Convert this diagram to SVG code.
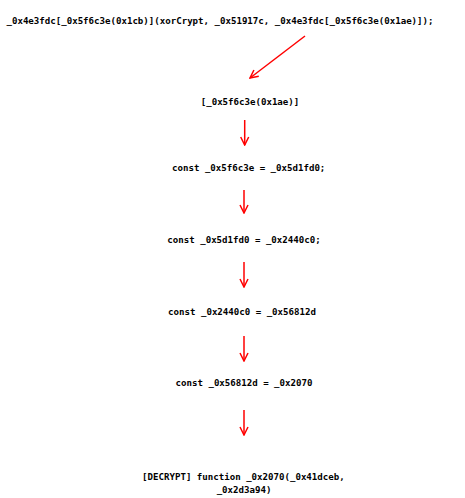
<svg xmlns="http://www.w3.org/2000/svg" width="465" height="498" viewBox="0 0 465 498">
<defs>
<marker id="ah" viewBox="0 0 10 10" refX="9" refY="5" markerWidth="10" markerHeight="10" markerUnits="userSpaceOnUse" orient="auto">
<path d="M1,1 L9,5 L1,9" fill="none" stroke="#ff0000" stroke-width="1.5"/>
</marker>
</defs>
<style>
text{font-family:"DejaVu Sans Mono","Liberation Mono",monospace;font-weight:bold;font-size:9.1px;fill:#000;text-anchor:middle}
.c{stroke:#ff0000;stroke-width:1.5;fill:none;marker-end:url(#ah)}
</style>
<rect width="465" height="498" fill="#fff"/>
<g id="n0"><text x="220" y="24">_0x4e3fdc[_0x5f6c3e(0x1cb)](xorCrypt, _0x51917c, _0x4e3fdc[_0x5f6c3e(0x1ae)]);</text></g>
<g id="n1"><text x="250" y="105">[_0x5f6c3e(0x1ae)]</text></g>
<g id="n2"><text x="248.7" y="171">const _0x5f6c3e = _0x5d1fd0;</text></g>
<g id="n3"><text x="244" y="243">const _0x5d1fd0 = _0x2440c0;</text></g>
<g id="n4"><text x="242" y="315">const _0x2440c0 = _0x56812d</text></g>
<g id="n5"><text x="244" y="386">const _0x56812d = _0x2070</text></g>
<g id="n6"><text x="243.4" y="480">[DECRYPT] function _0x2070(_0x41dceb,</text><text x="244" y="493">_0x2d3a94)</text></g>
<g id="connectors">
<path class="c" d="M305,36 L250,78"/>
<path class="c" d="M244.7,120 L244.7,145"/>
<path class="c" d="M244,190 L244,213"/>
<path class="c" d="M244,262 L244,287"/>
<path class="c" d="M244,336 L244,361"/>
<path class="c" d="M244,410 L244,435"/>
</g>
</svg>
